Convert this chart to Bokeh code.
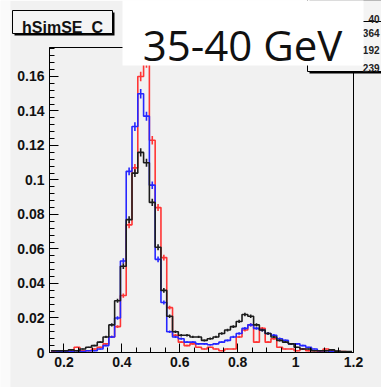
import numpy as np
from bokeh.plotting import figure
from bokeh.models import (Range1d, SingleIntervalTicker, CustomJSTickFormatter,
                          BoxAnnotation, Label)
from bokeh.embed import file_html
from bokeh.resources import INLINE

# ---------------- data ----------------
bin_start = 0.155
bin_width = 0.02
n_bins = 52

red_vals = [0.0005, 0.001, 0.0005, 0.001, 0.003, 0.001, 0.001, 0.002, 0.003, 0.005, 0.009, 0.015,
            0.033, 0.074, 0.107, 0.160, 0.168, 0.123, 0.084, 0.055, 0.026, 0.010, 0.006, 0.004,
            0.005, 0.003, 0.002, 0.003, 0.002, 0.001, 0.002, 0.002, 0.009, 0.013, 0.016, 0.006,
            0.014, 0.006, 0.008, 0.003, 0.002, 0.002, 0.001, 0.002, 0.001, 0.001, 0.0005, 0.002,
            0.001, 0.0005, 0.0005, 0.0003]
blue_vals = [0.001, 0.0005, 0.0005, 0.0005, 0.001, 0.0005, 0.001, 0.001, 0.002, 0.004, 0.009, 0.020,
             0.053, 0.105, 0.131, 0.150, 0.137, 0.097, 0.054, 0.029, 0.012, 0.009, 0.008, 0.006,
             0.006, 0.005, 0.005, 0.0045, 0.005, 0.006, 0.007, 0.009, 0.011, 0.014, 0.016, 0.014,
             0.013, 0.011, 0.010, 0.008, 0.007, 0.005, 0.005, 0.004, 0.003, 0.002, 0.001, 0.001,
             0.0005, 0.0005, 0.0003, 0.0003]
black_vals = [0.001, 0.001, 0.001, 0.0015, 0.001, 0.002, 0.003, 0.004, 0.006, 0.009, 0.016, 0.030,
              0.050, 0.077, 0.104, 0.116, 0.110, 0.087, 0.061, 0.036, 0.021, 0.012, 0.010, 0.010,
              0.009, 0.009, 0.007, 0.008, 0.009, 0.011, 0.013, 0.015, 0.018, 0.022, 0.021, 0.016,
              0.013, 0.011, 0.009, 0.007, 0.006, 0.005, 0.003, 0.002, 0.002, 0.001, 0.001, 0.001,
              0.0015, 0.0008, 0.0005, 0.0005]

hist_title = "hSimSE_C"
energy_label = "35-40 GeV"
stats_fragments = ["40", "364", "192", "239"]

x_min, x_max = 0.15, 1.2001
y_min, y_max = 0.0, 0.1768

W, H = 381, 387
BG = "#f1f1f1"

# ---------------- main figure ----------------
p = figure(width=W, height=H, x_range=Range1d(x_min, x_max), y_range=Range1d(y_min, y_max),
           output_backend="svg", toolbar_location=None,
           min_border_left=49, min_border_right=28, min_border_top=47, min_border_bottom=35)
p.background_fill_color = BG
p.border_fill_color = BG
p.outline_line_color = "black"
p.outline_line_width = 1
p.xgrid.visible = False
p.ygrid.visible = False

p.xaxis.ticker = SingleIntervalTicker(interval=0.2, num_minor_ticks=4)
p.yaxis.ticker = SingleIntervalTicker(interval=0.02, num_minor_ticks=5)
fmt = CustomJSTickFormatter(code="return String(parseFloat(tick.toFixed(4)));")
for ax in (p.xaxis[0], p.yaxis[0]):
    ax.formatter = fmt
    ax.major_tick_in = 9
    ax.major_tick_out = 0
    ax.minor_tick_in = 5
    ax.minor_tick_out = 0
    ax.axis_line_color = "black"
    ax.major_tick_line_color = "black"
    ax.minor_tick_line_color = "black"
    ax.major_label_text_font = "Liberation Sans"
    ax.major_label_text_font_style = "bold"
    ax.major_label_text_font_size = "14px"
    ax.major_label_text_color = "#111111"
p.xaxis.major_label_standoff = 4
p.yaxis.major_label_standoff = 5

edges = bin_start + bin_width * np.arange(n_bins + 1)
centers = 0.5 * (edges[:-1] + edges[1:])


def draw_hist(vals, color):
    v = np.asarray(vals, dtype=float)
    xs = np.repeat(edges, 2)[1:-1]
    ys = np.repeat(v, 2)
    p.line(xs, ys, line_color=color, line_width=1.6)
    err = 0.007 * np.sqrt(v)
    p.segment(x0=centers, y0=v - err, x1=centers, y1=v + err, line_color=color, line_width=1.6)


draw_hist(red_vals, "#ff3535")
draw_hist(blue_vals, "#2626ff")
draw_hist(black_vals, "#1c1c1c")

# ---------------- overlay figure for the pave boxes ----------------
q = figure(width=W, height=H, x_range=Range1d(0, W), y_range=Range1d(H, 0),
           output_backend="svg", toolbar_location=None,
           x_axis_location=None, y_axis_location=None,
           min_border=0, min_border_left=0, min_border_right=0,
           min_border_top=0, min_border_bottom=0)
q.grid.visible = False
q.outline_line_color = None
q.background_fill_alpha = 0
q.border_fill_alpha = 0
q.margin = (-H, 0, 0, 0)


def box(l, r, t, b, fill, line=None, lw=1):
    q.add_layout(BoxAnnotation(left=l, right=r, top=t, bottom=b,
                               left_units="canvas", right_units="canvas",
                               top_units="canvas", bottom_units="canvas",
                               fill_color=fill, fill_alpha=1,
                               line_color=line, line_alpha=1 if line else 0, line_width=lw))


def label(x, y, text, align, font, size, style="normal", color="#111111"):
    q.add_layout(Label(x=x, y=y, x_units="canvas", y_units="canvas", text=text,
                       text_align=align, text_baseline="alphabetic", text_font=font,
                       text_font_style=style, text_font_size=size, text_color=color))


box(0, 10, 0, H, "#fafafa")
# title pave with shadow
box(14, 114, 12, 35, "black")
box(12, 112, 10, 33, "#f4f4f4", "black", 1)
label(62, 27, hist_title, "center", "Liberation Sans", "16px", "bold")

# stats pave
box(309, 395, -5, 73, "black")
box(307, 393, -5, 71, "#f4f4f4", "black", 1)
box(307, 393, 20.5, 21.5, "black")
for txt, yb in zip(stats_fragments, [18.5, 32, 49.5, 67]):
    label(379, yb, txt, "right", "Liberation Sans", "10px", "bold", "#222222")

# white energy label box
box(122, 363, -2, 65, "white")
label(242, 43.5, energy_label, "center", "Open Sans", "42px")

open("out.html", "w").write(file_html([p, q], INLINE))
